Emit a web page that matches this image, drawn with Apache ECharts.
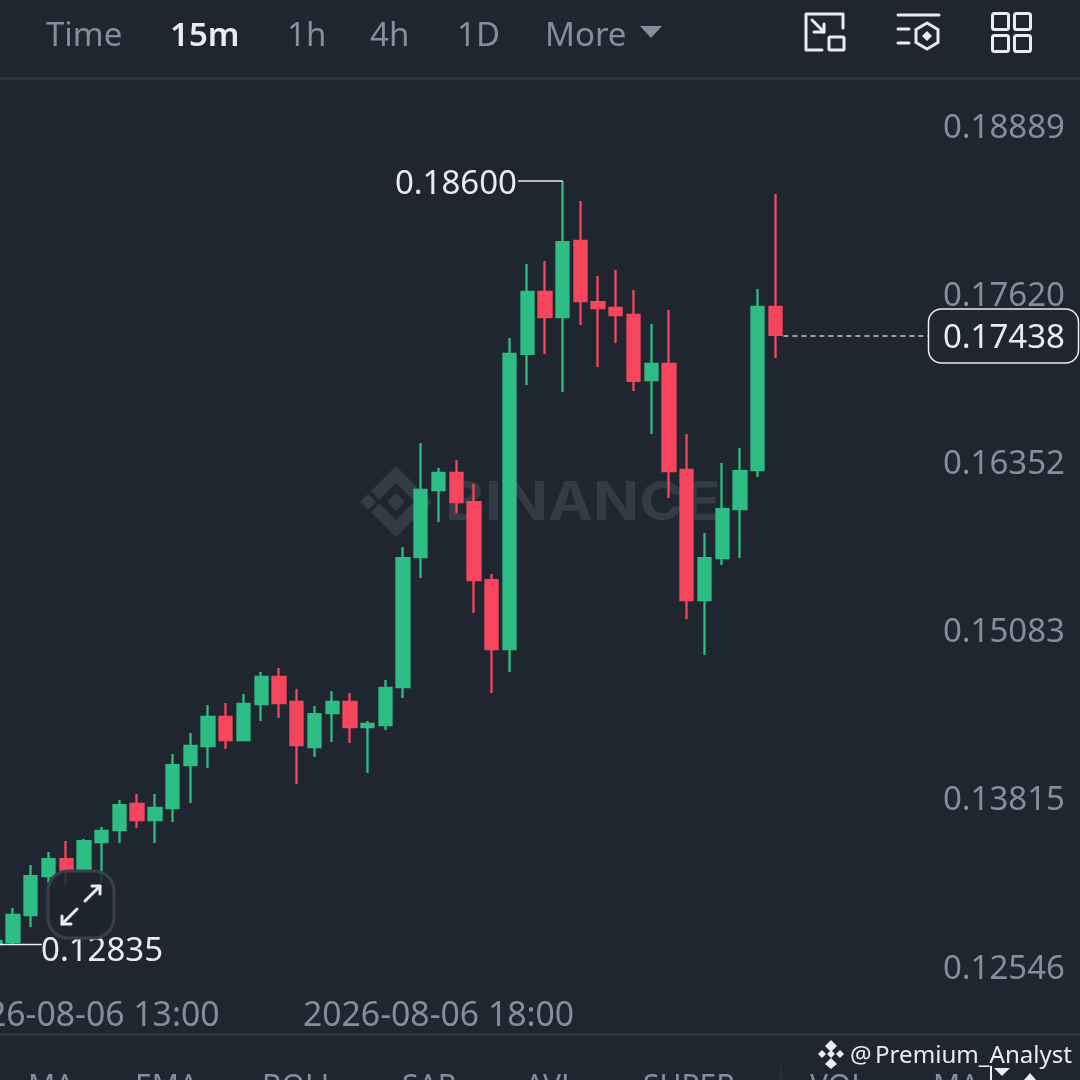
<!DOCTYPE html>
<html>
<head>
<meta charset="utf-8">
<style>html,body{margin:0;padding:0;background:#1f2630}#c{width:1080px;height:1080px}</style>
<script src="https://cdn.jsdelivr.net/npm/echarts@6/dist/echarts.min.js"></script>
</head>
<body>
<div id="c"></div>
<script>
var opens = [0.12838,0.12854,0.13058,0.13352,0.13480,0.13390,0.13609,0.13699,0.13896,0.13775,0.13866,0.14190,0.14334,0.14553,0.14379,0.14651,0.14855,0.14666,0.14326,0.14583,0.14666,0.14477,0.14492,0.14779,0.15761,0.16267,0.16395,0.16176,0.15587,0.15066,0.17294,0.17762,0.17573,0.18147,0.17686,0.17641,0.17588,0.17097,0.17218,0.16418,0.15436,0.15753,0.16123,0.16418,0.17649];
var closes = [0.12861,0.13058,0.13352,0.13480,0.13390,0.13616,0.13692,0.13888,0.13775,0.13866,0.14190,0.14334,0.14553,0.14379,0.14651,0.14855,0.14658,0.14341,0.14575,0.14666,0.14477,0.14500,0.14772,0.15753,0.16267,0.16395,0.16176,0.15587,0.15066,0.17294,0.17762,0.17573,0.18139,0.17694,0.17641,0.17588,0.17090,0.17218,0.16410,0.15436,0.15753,0.16123,0.16410,0.17649,0.17438];
var lows = [0.12835,0.12839,0.12967,0.13299,0.13284,0.13382,0.13299,0.13601,0.13715,0.13601,0.13760,0.13903,0.14168,0.14311,0.14371,0.14522,0.14545,0.14047,0.14251,0.14364,0.14356,0.14130,0.14454,0.14696,0.15602,0.16025,0.16093,0.15338,0.14734,0.14892,0.17060,0.17294,0.17007,0.17513,0.17196,0.17377,0.17014,0.16690,0.16206,0.15293,0.15021,0.15700,0.15753,0.16365,0.17263];
var highs = [0.12869,0.13110,0.13435,0.13533,0.13616,0.13631,0.13722,0.13926,0.13971,0.13971,0.14273,0.14432,0.14643,0.14658,0.14726,0.14892,0.14923,0.14764,0.14636,0.14749,0.14734,0.14522,0.14832,0.15836,0.16622,0.16433,0.16493,0.16312,0.15632,0.17414,0.17973,0.17996,0.18600,0.18449,0.17883,0.17928,0.17777,0.17520,0.17626,0.16690,0.15942,0.16471,0.16584,0.17784,0.18502];
var priceTicks = [0.12546,0.13815,0.15083,0.16352,0.17620,0.18889];
var timeTicks = ['2026-08-06 13:00','2026-08-06 18:00'];
var highMark = {index:32, value:0.18600, label:'0.18600'};
var lowMark = {index:0, value:0.12835, label:'0.12835'};
var lastMark = {index:44, value:0.17438, label:'0.17438'};
var periods = ['Time','15m','1h','4h','1D','More'];
var indicators = ['MA','EMA','BOLL','SAR','AVL','SUPER','VOL','MA'];
var watermarkName = 'BINANCE';
var creditParts = ['@','Premium_Analyst'];

var BG='#1f2630', GREEN='#2ebd85', RED='#f6465d', GREY='#848e9c', WHITE='#eaecef', LINE='#2c323c', FAINT='#353b45';
var FONT='"Noto Sans"';

// categories: one band per 15 minute candle; blank bands run to the right edge
var categories = [];
(function(){
  var start = 11*60+45;
  for (var i=0;i<62;i++){
    var m = start+i*15, h=Math.floor(m/60), mm=m%60;
    categories.push('2026-08-06 '+(h<10?'0':'')+h+':'+(mm<10?'0':'')+mm);
  }
})();
var candles = opens.map(function(o,i){return [o,closes[i],lows[i],highs[i]];});

function txt(t,x,y,fill,size,weight,align){
  return {type:'text',z:20,style:{text:t,x:x,y:y,fill:fill,font:(weight||'400')+' '+size+'px '+FONT,textAlign:align||'left',textVerticalAlign:'middle'}};
}
// turn a tiny M/L/H/V/Z outline string into point lists
function parse(d){
  var out=[],cur=null,x=0,y=0,m,re=/([MLHVZ])([^MLHVZ]*)/g;
  while((m=re.exec(d))){
    var n=m[2].trim()?m[2].trim().split(/\s+/).map(Number):[];
    if(m[1]==='M'){cur={pts:[],closed:false};out.push(cur);x=n[0];y=n[1];cur.pts.push([x,y]);}
    else if(m[1]==='L'){x=n[0];y=n[1];cur.pts.push([x,y]);}
    else if(m[1]==='H'){x=n[0];cur.pts.push([x,y]);}
    else if(m[1]==='V'){y=n[0];cur.pts.push([x,y]);}
    else {cur.closed=true;}
  }
  return out;
}
function stroke(d,w,c,z){
  return parse(d).map(function(s){
    return {type:s.closed?'polygon':'polyline',z:z||20,shape:{points:s.pts},
      style:{fill:'none',stroke:c||WHITE,lineWidth:w||3,lineCap:'round',lineJoin:'round'}};
  });
}
function fillP(d,c,z){
  return parse(d).map(function(s){
    return {type:'polygon',z:z||1,shape:{points:s.pts},style:{fill:c}};
  });
}
function box(x,y,w,h,r){
  return {type:'rect',z:20,shape:{x:x,y:y,width:w,height:h,r:r},style:{fill:'none',stroke:WHITE,lineWidth:3}};
}

var periodX=[46,170,287,370,457,545];
var indicatorX=[28,135,262,402,525,643,810,933];
var g=[];
function add(a){ g=g.concat(a); }
periods.forEach(function(p,i){
  g.push(txt(p,periodX[i],37,p==='15m'?WHITE:GREY,33,p==='15m'?'600':'400'));
});
add(fillP('M640 26 L662 26 L651 38 Z',GREY,20));
// top icons
add(stroke('M843 28 V14 H806 V50 H822',3));
g.push(box(829,37,15,13,1));
add(stroke('M812 20 L824 32 M824 24 V32 H814',3));
add(stroke('M898 15 H939 M898 29 H909 M898 43 H909',3));
add(stroke('M927 23 L938 29.5 V42.5 L927 49 L916 42.5 V29.5 Z',3));
add(fillP('M927 31 L932 36 L927 41 L922 36 Z',WHITE,20));
g.push(box(992.5,13.5,16,16,2),box(1014.5,13.5,16,16,2),box(992.5,35.5,16,16,2),box(1014.5,35.5,16,16,2));
// separators
g.push({type:'rect',z:1,shape:{x:0,y:77,width:1080,height:3},style:{fill:LINE}});
g.push({type:'rect',z:1,shape:{x:0,y:1033,width:1080,height:3},style:{fill:LINE}});
g.push({type:'rect',z:1,shape:{x:780,y:1066,width:1.5,height:14},style:{fill:LINE}});
// clipped indicator tabs
indicators.forEach(function(t,i){
  g.push({type:'text',z:1,style:{text:t,x:indicatorX[i],y:1087,fill:GREY,font:'400 30px '+FONT,textAlign:'left',textVerticalAlign:'middle'}});
});
// credit
g.push(txt(creditParts[0],850,1056,WHITE,24,'400'));
g.push(txt(creditParts[1],875,1056,WHITE,24.1,'400'));
add(fillP('M831 1040 L837 1046 L831 1052 L825 1046 Z M831 1058 L837 1064 L831 1069 L825 1064 Z M822 1050 L826 1054 L822 1058 L818 1054 Z M840 1050 L844 1054 L840 1058 L836 1054 Z M831 1050 L835 1054 L831 1058 L827 1054 Z',WHITE,20));
add(fillP('M994 1068 L1010 1068 L1002 1076 Z M1024 1080 L1030 1073 L1036 1080 Z',WHITE,20));
g.push({type:'rect',z:20,shape:{x:990,y:1066,width:2,height:14},style:{fill:WHITE}});
// watermark
add(fillP('M396 466 L421 491 L412.5 499.5 L396 483 L379.5 499.5 L371 491 Z M396 537 L421 512 L412.5 503.5 L396 520 L379.5 503.5 L371 512 Z M396 493 L405 502 L396 511 L387 502 Z M368 494 L376 502 L368 510 L360 502 Z M424 494 L432 502 L424 510 L416 502 Z',FAINT,1));
g.push({type:'text',z:1,x:445,y:504,scaleX:1.14,style:{text:watermarkName,x:0,y:0,fill:FAINT,font:'700 53px Inter',textAlign:'left',textVerticalAlign:'middle'}});
// expand button over the candles
g.push({type:'rect',z:30,shape:{x:48,y:871,width:66,height:67,r:20},style:{fill:'rgba(31,38,48,0.82)',stroke:'#3a3f49',lineWidth:3}});
add(stroke('M85 901 L100 886 M92 886 H100 V894 M77 909 L62 924 M62 916 V924 H71',3,WHITE,31));

var annotations=[
  [highMark.index,highMark.value,highMark.label,'high'],
  [lowMark.index,lowMark.value,lowMark.label,'low'],
  [lastMark.index,lastMark.value,lastMark.label,'last']
];
var opt={
  animation:false,
  backgroundColor:BG,
  textStyle:{fontFamily:FONT},
  grid:{left:-13.57,top:79,right:-5.69,bottom:47,containLabel:false,outerBoundsMode:'none'},
  xAxis:{
    type:'category',data:categories,boundaryGap:true,
    axisLine:{show:false},axisTick:{show:false},splitLine:{show:false},
    axisLabel:{inside:true,margin:0,color:GREY,fontSize:33.75,fontFamily:FONT,hideOverlap:false,
      interval:function(i,v){return timeTicks.indexOf(v)>=0;}}
  },
  yAxis:{
    type:'value',position:'right',min:0.12167,max:0.1937,scale:true,
    axisLine:{show:false},axisTick:{show:false},splitLine:{show:false},
    axisLabel:{inside:true,margin:20.7,verticalAlign:'middle',
      rich:{p:{color:GREY,fontSize:33,fontFamily:FONT,padding:[0,0,27.4,0]}},
      customValues:priceTicks,showMinLabel:true,showMaxLabel:true,hideOverlap:false,
      formatter:function(v){return '{p|'+v.toFixed(5)+'}';}}
  },
  graphic:{elements:g},
  series:[
    {type:'candlestick',z:5,barWidth:12.8,data:candles,
     itemStyle:{color:GREEN,color0:RED,borderColor:GREEN,borderColor0:RED,borderWidth:2.3}},
    {type:'custom',z:10,clip:false,silent:true,data:annotations,encode:{x:0,y:1},
     renderItem:function(params,api){
       var d=annotations[params.dataIndex];
       var p=api.coord([d[0],d[1]]);
       var font='400 33px '+FONT;
       if(d[3]==='high'){
         return {type:'group',children:[
           {type:'line',shape:{x1:518,y1:p[1],x2:p[0],y2:p[1]},style:{stroke:WHITE,lineWidth:1.5}},
           {type:'text',style:{text:d[2],x:517,y:p[1]+4,fill:WHITE,font:font,textAlign:'right',textVerticalAlign:'middle'}}
         ]};
       }
       if(d[3]==='low'){
         return {type:'group',children:[
           {type:'line',shape:{x1:0,y1:p[1],x2:42,y2:p[1]},style:{stroke:WHITE,lineWidth:1.5}},
           {type:'text',style:{text:d[2],x:41,y:p[1]+7,fill:WHITE,font:font,textAlign:'left',textVerticalAlign:'middle'}}
         ]};
       }
       return {type:'group',children:[
         {type:'line',shape:{x1:p[0]+8,y1:p[1]+1,x2:928,y2:p[1]+1},style:{stroke:'#c5c8cc',lineWidth:1.5,lineDash:[5,4]}},
         {type:'rect',shape:{x:928.5,y:309,width:150,height:54,r:13},style:{fill:BG,stroke:WHITE,lineWidth:1.5}},
         {type:'text',style:{text:d[2],x:1065,y:339,fill:WHITE,font:font,textAlign:'right',textVerticalAlign:'middle'}}
       ]};
     }}
  ]
};
var chart=echarts.init(document.getElementById('c'),null,{renderer:'canvas'});
chart.setOption(opt);
</script>
</body>
</html>
